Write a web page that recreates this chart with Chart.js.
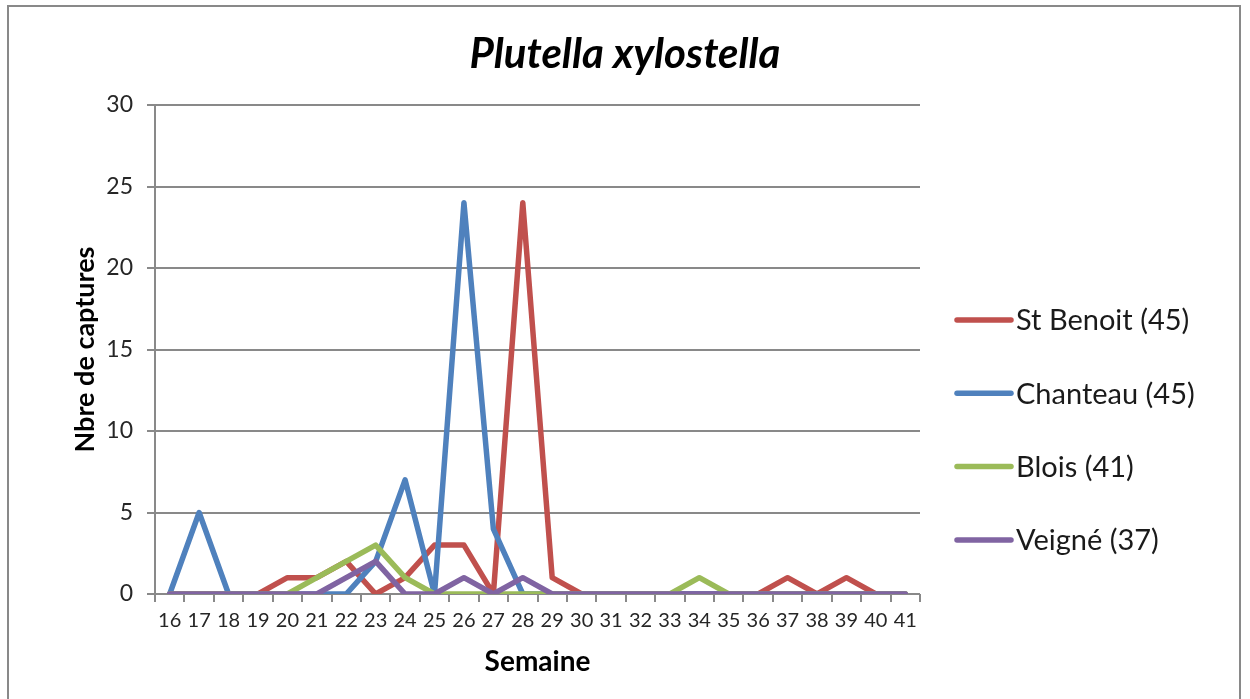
<!DOCTYPE html>
<html>
<head>
<meta charset="utf-8">
<script src="https://cdn.jsdelivr.net/npm/chart.js@4.4.1/dist/chart.umd.min.js"></script>
<style>
  html, body { margin: 0; padding: 0; background: #fff; }
  #wrap { position: absolute; left: 0; top: 0; width: 1250px; height: 699px; }
</style>
</head>
<body>
<div id="wrap"><canvas id="c" width="1250" height="699"></canvas></div>
<script>
// ---- data ----
const weeks = ['16','17','18','19','20','21','22','23','24','25','26','27','28','29','30','31','32','33','34','35','36','37','38','39','40','41'];
const stBenoit = [0,0,0,0,1,1,2,0,1,3,3,0,24,1,0,0,0,0,0,0,0,1,0,1,0,0];
const chanteau = [0,5,0,0,0,0,0,2,7,0,24,4,0,0,0,0,0,0,0,0,0,0,0,0,0,0];
const blois    = [0,0,0,0,0,1,2,3,1,0,0,0,0,0,0,0,0,0,1,0,0,0,0,0,0,0];
const veigne   = [0,0,0,0,0,0,1,2,0,0,1,0,1,0,0,0,0,0,0,0,0,0,0,0,0,0];
const seriesNames = ['St Benoit (45)', 'Chanteau (45)', 'Blois (41)', 'Veigné (37)'];
const yTicks = [0, 5, 10, 15, 20, 25, 30];

const colors = ['#C0504D', '#4F81BD', '#9BBB59', '#8064A2'];
const FONT = 'Lato, "Open Sans", sans-serif';

const frame = {
  id: 'frame',
  beforeDraw(chart) {
    const ctx = chart.ctx;
    ctx.save();
    ctx.fillStyle = '#fff';
    ctx.fillRect(0, 0, chart.width, chart.height);
    ctx.strokeStyle = '#898989';
    ctx.lineWidth = 2;
    ctx.strokeRect(8, 6, 1232, 710);
    ctx.restore();
  }
};

const sideLegend = {
  id: 'sideLegend',
  beforeInit(chart) {
    const box = {
      position: 'right', weight: 100, fullSize: false,
      options: { stackWeight: 1 },
      left: 0, top: 0, right: 0, bottom: 0, width: 0, height: 0,
      isHorizontal() { return false; },
      update(maxW, maxH) { this.width = 330; this.height = maxH; return {width: 330, height: maxH}; },
      getPadding() { return {top: 0, left: 0, right: 0, bottom: 0}; },
      draw() {
        const ctx = chart.ctx;
        const ds = chart.data.datasets;
        ctx.save();
        ctx.font = '29px ' + FONT;
        ctx.textBaseline = 'middle';
        ctx.textAlign = 'left';
        for (let i = 0; i < ds.length; i++) {
          const y = this.top + 215 + i * 73.3;
          ctx.strokeStyle = ds[i].borderColor;
          ctx.lineWidth = 5.5;
          ctx.lineCap = 'round';
          ctx.beginPath();
          ctx.moveTo(this.left + 37, y);
          ctx.lineTo(this.left + 91, y);
          ctx.stroke();
          ctx.fillStyle = '#1a1a1a';
          ctx.fillText(ds[i].label, this.left + 96, y + 1);
        }
        ctx.restore();
      }
    };
    Chart.layouts.addBox(chart, box);
  }
};

new Chart(document.getElementById('c'), {
  type: 'line',
  data: {
    labels: weeks,
    datasets: [stBenoit, chanteau, blois, veigne].map((d, i) => ({
      label: seriesNames[i],
      data: d,
      borderColor: colors[i],
      backgroundColor: colors[i],
      borderWidth: 5.5,
      pointRadius: 0,
      pointHoverRadius: 0,
      tension: 0,
      fill: false,
      borderJoinStyle: 'round',
      borderCapStyle: 'round',
      order: 4 - i
    }))
  },
  options: {
    responsive: false,
    animation: false,
    events: [],
    layout: { padding: 0 },
    plugins: {
      legend: { display: false },
      tooltip: { enabled: false },
      title: {
        display: true,
        text: 'Plutella xylostella',
        color: '#000',
        font: { family: FONT, size: 42, style: 'italic', weight: 'bold', lineHeight: 1.2 },
        padding: { top: 29, bottom: 25.6 }
      }
    },
    scales: {
      x: {
        type: 'category',
        offset: true,
        grid: { display: true, offset: true, drawOnChartArea: false, drawTicks: true, tickLength: 8, color: '#898989', lineWidth: 2 },
        border: { display: false },
        ticks: { color: '#262626', font: { family: FONT, size: 20 }, padding: 7, maxRotation: 0, autoSkip: false },
        title: { display: true, text: 'Semaine', color: '#000', font: { family: FONT, size: 28, weight: 'bold', lineHeight: 1.2 }, padding: { top: 0, bottom: 20.5 } },
        afterFit(s) { s.height = 105; }
      },
      y: {
        min: 0, max: 30,
        afterBuildTicks(s) { s.ticks = yTicks.map(v => ({ value: v })); },
        grid: { color: '#898989', lineWidth: 2, drawTicks: true, tickLength: 8 },
        border: { display: true, color: '#898989', width: 2 },
        ticks: { color: '#262626', font: { family: FONT, size: 23 }, padding: 14 },
        title: { display: true, text: 'Nbre de captures', color: '#000', font: { family: FONT, size: 27, weight: 'bold', lineHeight: 1.2 }, padding: { top: 69, bottom: 0 } },
        afterFit(s) { s.width = 155; }
      }
    }
  },
  plugins: [frame, sideLegend]
});
</script>
</body>
</html>
